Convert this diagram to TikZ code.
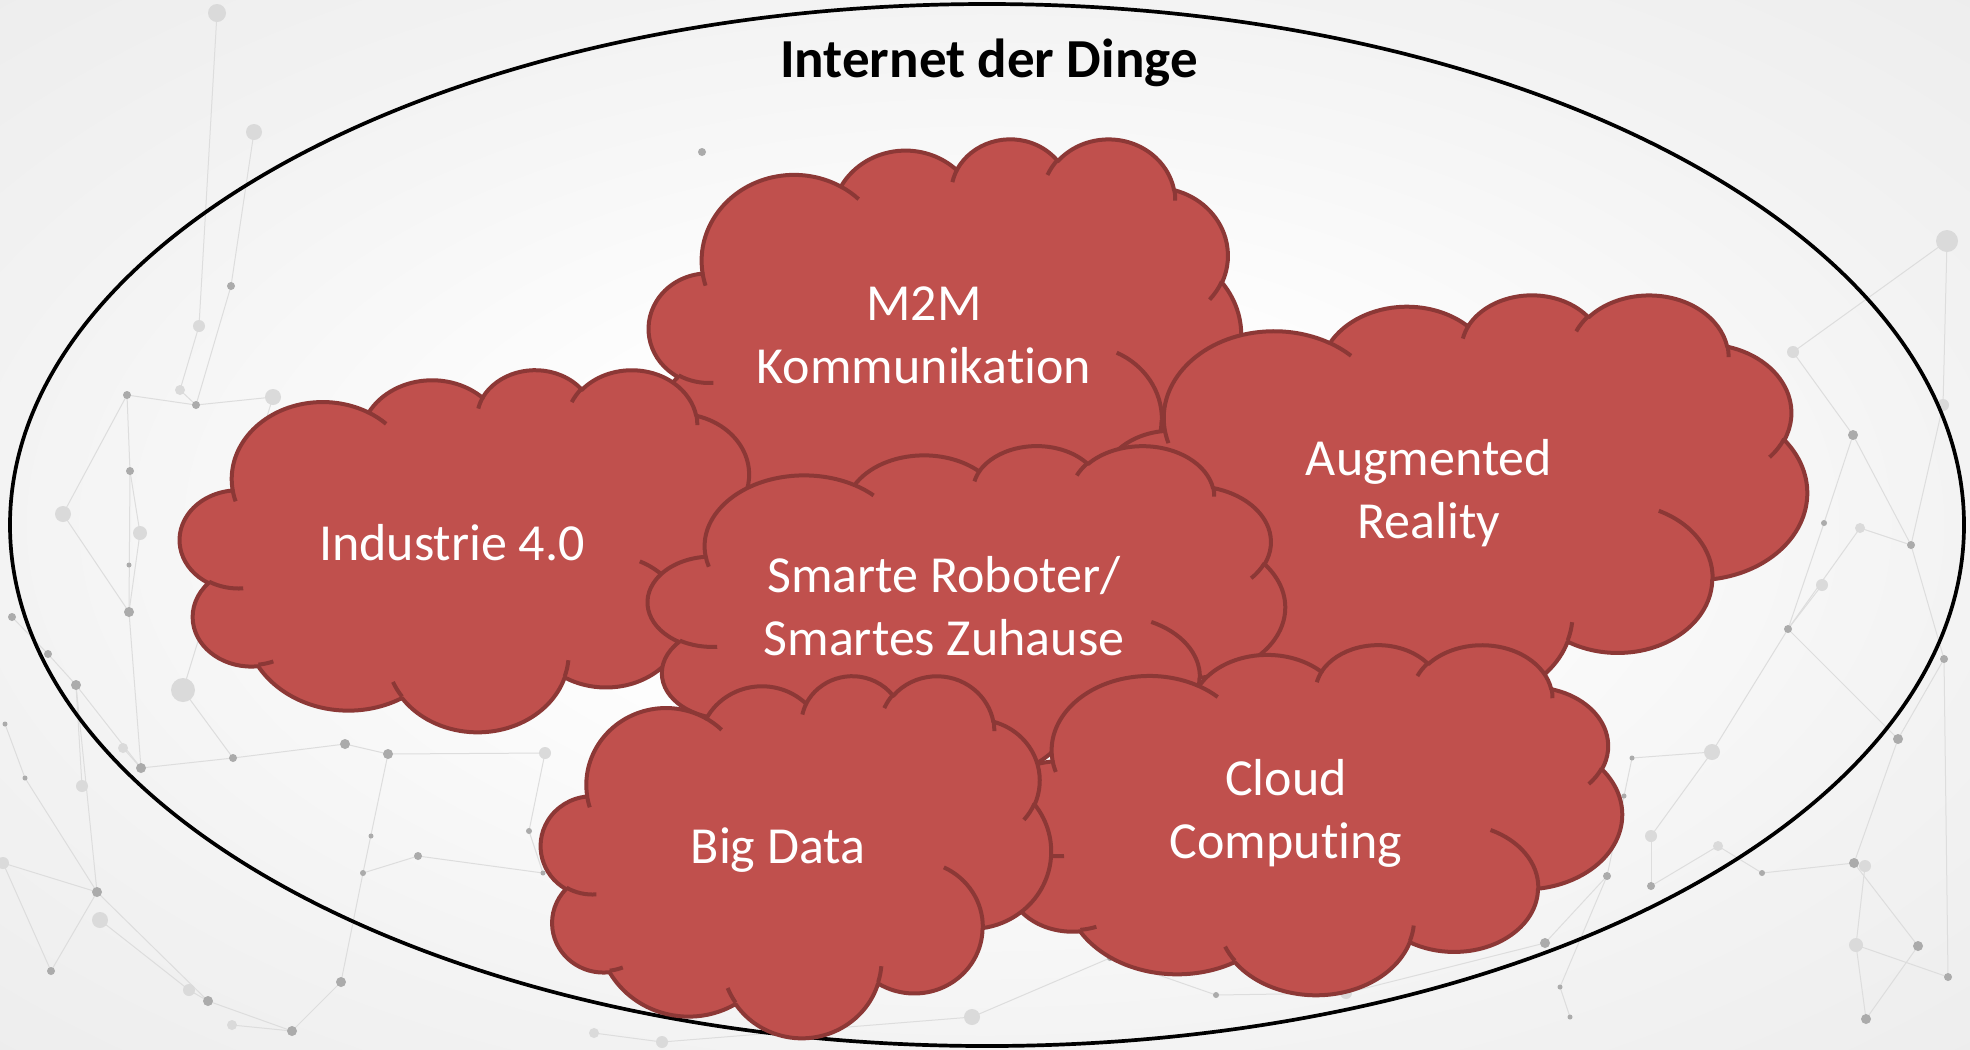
\documentclass[tikz,border=0pt]{standalone}
\usepackage{fontspec}
\setmainfont{Carlito}[Ligatures=NoCommon]
\definecolor{cloudred}{HTML}{C0504D}
\definecolor{cloudedge}{HTML}{8C3836}
\definecolor{netline}{HTML}{DDDDDD}
\definecolor{netdark}{HTML}{ABABAB}
\definecolor{netlight}{HTML}{DADADA}
\definecolor{bgedge}{HTML}{F3F3F3}
\definecolor{bgcorner}{HTML}{EDEDED}
\pgfdeclareradialshading{bgshade}{\pgfpoint{0bp}{0bp}}{color(0bp)=(white); color(9bp)=(white); color(25bp)=(bgedge); color(36bp)=(bgcorner); color(50bp)=(bgcorner)}

% one PowerPoint-style arcTo (visual angles converted to parametric ones)
\newcommand\cldarc[4]{arc[start angle={#3+atan2((#1-#2)*sin(#3)*cos(#3),#2*cos(#3)*cos(#3)+#1*sin(#3)*sin(#3))}, end angle={#3+#4+atan2((#1-#2)*sin(#3+#4)*cos(#3+#4),#2*cos(#3+#4)*cos(#3+#4)+#1*sin(#3+#4)*sin(#3+#4))}, x radius=#1, y radius=#2]}

% cloud shape: left, top, width, height (picture units)
\newcommand\pptcloud[4]{%
\begin{scope}[shift={(#1,#2)},xscale=#3/432,yscale=#4/432]
 \filldraw[cloudbody] (39,143.7)
  \cldarc{67.53}{91.90}{-190.4875}{123.7805}
  \cldarc{53.33}{72.67}{-144.1024}{89.9452}
  \cldarc{43.65}{59.45}{-145.8079}{99.7230}
  \cldarc{48.57}{65.95}{-130.9861}{117.2417}
  \cldarc{53.33}{72.73}{-78.7089}{109.0269}
  \cldarc{67.75}{92.20}{-46.2673}{130.2690}
  \cldarc{57.85}{78.67}{0.6250}{114.0333}
  \cldarc{67.52}{92.15}{22.4516}{115.1726}
  \cldarc{77.20}{105.43}{66.2426}{75.7110}
  \cldarc{43.60}{59.18}{-274.9421}{146.7356}
  \cldarc{43.45}{59.45}{-246.8285}{152.5189}
  -- cycle;
 \draw[cloudinner]
  (46.93,261.77) \cldarc{43.45}{59.45}{86.742}{26.4295}
  (69.28,348.99) \cldarc{43.60}{59.18}{73.6105}{11.4475}
  (164.78,390.90) \cldarc{67.52}{92.15}{137.6242}{14.0811}
  (288.27,347.51) \cldarc{67.52}{92.15}{6.4533}{15.9984}
  (341.29,229.54) \cldarc{57.85}{78.67}{-70.697}{71.322}
  (417.98,153.54) \cldarc{53.33}{72.73}{30.318}{19.7713}
  (383.24,54.26) \cldarc{48.57}{65.95}{-13.7443}{14.8534}
  (290.78,39.52) \cldarc{48.57}{65.95}{-149.1815}{18.1954}
  (221.41,47.20) \cldarc{43.65}{59.45}{-163.4943}{17.6871}
  (140.00,51.92) \cldarc{67.53}{91.90}{-66.707}{12.3194}
  (41.27,157.89) \cldarc{67.53}{91.90}{157.6544}{11.8582};
\end{scope}}

\tikzset{
 cloudbody/.style={fill=cloudred, draw=cloudedge, line width=0.4mm, line join=round},
 cloudinner/.style={draw=cloudedge, line width=0.4mm},
 cloudtext/.style={text=white, align=center, inner sep=0pt, anchor=base, font=\fontsize{14.8pt}{17.9pt}\selectfont},
 titletext/.style={text=black, inner sep=0pt, anchor=base, font=\bfseries\fontsize{15.65pt}{18.8pt}\selectfont},
 netln/.style={draw=netline, line width=0.1mm},
 outer/.style={draw=black, line width=0.37mm}
}

\begin{document}
\begin{tikzpicture}[x=0.1mm, y=0.1mm, yscale=-1]
\useasboundingbox (0,0) rectangle (1970,1049);
\shade[shading=bgshade] (0,0) rectangle (1970,1049);

% background network
\foreach \n/\x/\y in {p1/217/13, p2/254/132, p3/231/286, p4/199/326, p5/127/395, p6/180/390, p7/196/405, p8/273/397, p9/130/471, p10/63/514, p11/140/533, p12/129/565, p13/129/612, p14/12/617, p15/48/654, p16/76/685, p17/183/690, p18/5/724, p19/123/748, p20/141/768, p21/233/758, p22/345/744, p23/388/754, p24/82/786, p25/25/778, p26/371/836, p27/363/873, p28/3/863, p29/97/892, p30/100/920, p31/51/971, p32/189/990, p33/208/1001, p34/232/1025, p35/292/1031, p36/341/982, p37/418/856, m1/702/152, m2/545/753, m3/529/831, m4/543/873, m5/594/1033, m6/662/1042, m7/972/1017, m8/1110/958, m9/1216/995, m10/1346/993, m11/1545/943, q1/1947/241, q2/1793/352, q3/1853/435, q4/1943/405, q5/1824/523, q6/1860/528, q7/1911/545, q8/1822/585, q9/1788/629, q10/1944/659, q11/1898/739, q12/1712/752, q13/1632/758, q14/1624/796, q15/1651/836, q16/1718/846, q17/1607/876, q18/1651/886, q19/1762/873, q20/1854/863, q21/1865/866, q22/1856/945, q23/1918/946, q24/1948/977, q25/1866/1019, q26/1560/987, q27/1570/1017}
  {\coordinate (\n) at (\x,\y);}
\foreach \a/\b in {p1/p4, p2/p3, p3/p7, p4/p6, p5/p7, p6/p7, p7/p8, p5/p9, p9/p13, p10/p13, p11/p13, p10/p5, p14/p15, p15/p16, p16/p20, p13/p20, p20/p21, p21/p22, p22/p23, p23/p27, p27/p37, p29/p31, p29/p33, p33/p35, p35/p36, p36/p27, p16/p29, p28/p29, p30/p32, p19/p20, p24/p16, p18/p25, p25/p29, p31/p28, p32/p33, p34/p35, p8/p17, p17/p21, p11/p9, m2/p23, m3/m4, m4/p37, m5/m6, m6/m7, m7/m8, m8/m9, m9/m10, m10/m11, m11/q17, m2/m3, q1/q4, q2/q3, q3/q5, q3/q7, q5/q9, q4/q7, q7/q10, q6/q9, q9/q11, q9/q12, q10/q11, q11/q20, q12/q15, q13/q14, q14/q17, q15/q18, q16/q19, q19/q20, q20/q23, q21/q22, q22/q24, q23/q25, q17/q26, q26/q27, q8/q9, q2/q1, q6/q7, q12/q13, q18/q16, q22/q25, q24/q10}
  {\draw[netln] (\a) -- (\b);}
\foreach \n/\r in {p3/4, p5/4, p7/4, p9/4, p12/2.5, p13/5, p14/4, p15/4, p16/5, p18/2.5, p20/5, p21/4, p22/5, p23/5, p25/2.5, p26/2.5, p27/3, p29/5, p31/4, p33/5, p35/5, p36/5, p37/4, m1/4, m3/3, m4/2.5, m8/3, m9/3, m11/5, q3/5, q5/3, q7/4, q9/4, q10/4, q11/5, q13/2.5, q14/2.5, q17/4, q18/4, q19/3, q20/5, q23/5, q24/4, q25/5, q26/2.5, q27/2.5}
  {\fill[netdark] (\n) circle[radius=\r];}
\foreach \n/\r in {p1/9, p2/8, p4/6, p6/5, p8/8, p10/8, p11/7, p17/12, p19/5, p24/6, p28/6, p30/8, p32/6, p34/5, m2/6, m5/5, m6/6, m7/8, m10/6, q1/11, q2/6, q4/6, q6/5, q8/6, q12/8, q15/6, q16/5, q21/6, q22/7}
  {\fill[netlight] (\n) circle[radius=\r];}

% outer ellipse and title
\draw[outer] (987,525) ellipse [x radius=977, y radius=521];
\node[titletext] (title) at (989,77) {Internet der Dinge};

% clouds, back to front (multi-line labels are anchored at their last baseline)
\pptcloud{649}{138}{592}{404}
\node[cloudtext] (m2m) at (924,383) {M2M\\Kommunikation};
\pptcloud{180}{369}{582}{362}
\node[cloudtext] (ind) at (452,560) {Industrie 4.0};
\pptcloud{1101}{294}{706}{408}
\node[cloudtext] (aug) at (1429,538) {Augmented\\Reality};
\pptcloud{648}{445}{637}{333}
\node[cloudtext] (smart) at (944,655) {Smarte Roboter/\\Smartes Zuhause};
\pptcloud{996}{644}{626}{350}
\node[cloudtext] (cloudc) at (1286,858) {Cloud\\Computing};
\pptcloud{541}{675}{510}{362}
\node[cloudtext] (bigdata) at (778,863) {Big Data};
\end{tikzpicture}
\end{document}
